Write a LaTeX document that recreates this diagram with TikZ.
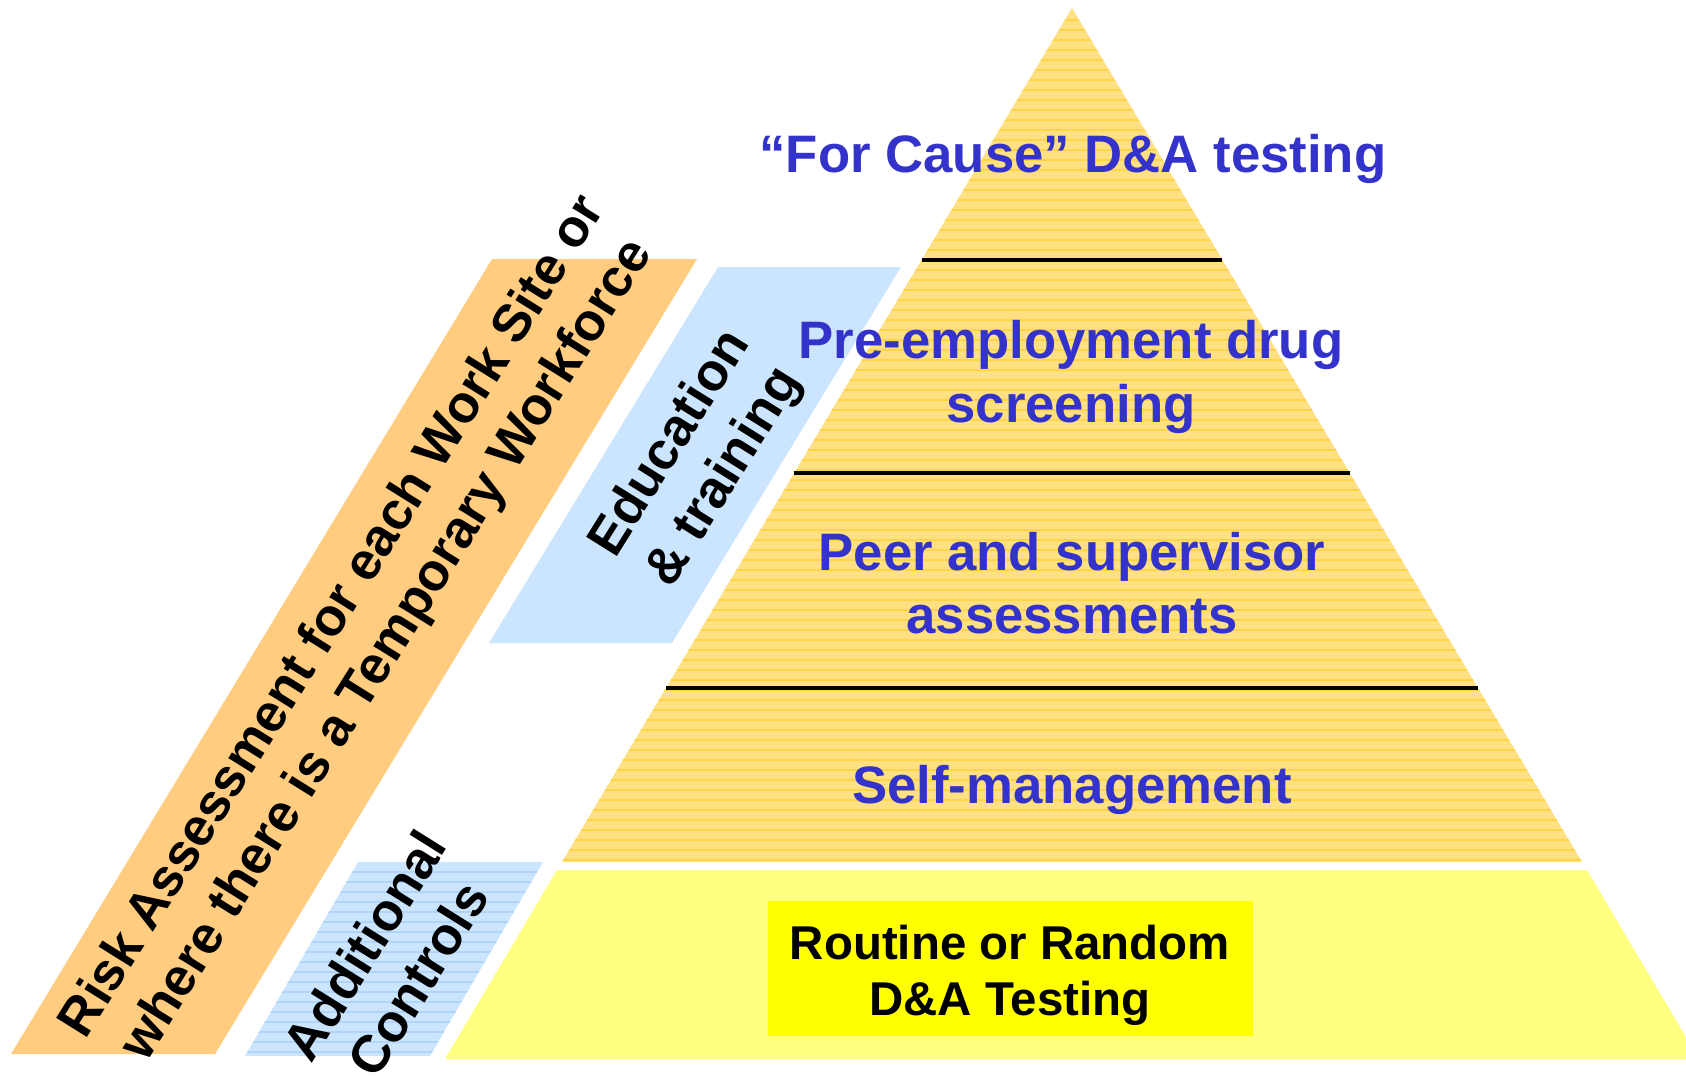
\documentclass[tikz,border=0pt]{standalone}
\usepackage{fontspec}
\setmainfont{Liberation Sans}
\usepackage{xcolor}
\definecolor{pyramide}{RGB}{255,224,130}
\definecolor{hachure}{RGB}{255,212,70}
\definecolor{socle}{RGB}{255,255,128}
\definecolor{jaune}{RGB}{255,255,0}
\definecolor{bandeorange}{RGB}{255,204,128}
\definecolor{bleuclair}{RGB}{204,229,255}
\definecolor{bleuligne}{RGB}{176,212,250}
\definecolor{bleutexte}{RGB}{51,51,204}

\tikzset{
    niveau/.style={text=bleutexte, font=\fontsize{15}{18}\selectfont\bfseries, align=center},
    bande/.style={text=black, font=\fontsize{15}{18}\selectfont\bfseries, align=center, rotate=58},
    encadre/.style={fill=jaune, minimum width=4.85cm, minimum height=1.35cm},
    routinetexte/.style={font=\fontsize{13.5}{16}\selectfont\bfseries, align=center},
    separation/.style={line width=1pt},
}

\begin{document}
\begin{tikzpicture}[x=0.1mm, y=-0.1mm]
    \clip (0,0) rectangle (1686,1075);
    %\draw[help lines] (0,0) grid (1686,1075);
    % bandes de gauche
    \fill[bandeorange] (492,259) -- (697,259) -- (215,1054) -- (11,1054) -- cycle;
    \fill[bleuclair] (718,267) -- (901,267) -- (672,643) -- (489,643) -- cycle;
    \fill[bleuclair] (358,862) -- (543,862) -- (430,1056) -- (245,1056) -- cycle;
    \begin{scope}
        \clip (358,862) -- (543,862) -- (430,1056) -- (245,1056) -- cycle;
        \foreach \y in {872,882,...,1052}
            \draw[bleuligne, line width=0.4pt] (240,\y) -- (550,\y);
    \end{scope}
    % pyramide
    \fill[pyramide] (1072,8) -- (1582,862) -- (562,862) -- cycle;
    \begin{scope}
        \clip (1072,8) -- (1582,862) -- (562,862) -- cycle;
        \foreach \y in {20,30,...,860}
            \draw[hachure, line width=0.4pt] (550,\y) -- (1600,\y);
    \end{scope}
    \fill[socle] (557,870) -- (1587,870) -- (1699,1059) -- (445,1059) -- cycle;
    \draw[separation] (922,260) -- (1222,260);
    \draw[separation] (794,473) -- (1350,473);
    \draw[separation] (666,688) -- (1478,688);

    \node[niveau] (cause) at (1073,159) {“For Cause” D\&A testing};
    \node[niveau] (embauche) at (1071,377) {Pre-employment drug\\screening};
    \node[niveau] (pairs) at (1072,583) {Peer and supervisor\\assessments};
    \node[niveau] (autogestion) at (1072,790) {Self-management};
    \node[encadre] (routine) at (1010,968) {};
    \node[routinetexte] (routinelabel) at (1010,975) {Routine or Random\\D\&A Testing};

    \node[bande] (risque) at (361,634) {Risk Assessment for each Work Site or\\where there is a Temporary Workforce};
    \node[bande] (formation) at (698,461) {Education\\\& training};
    \node[bande] (controles) at (391,962) {Additional\\Controls};
\end{tikzpicture}
\end{document}
